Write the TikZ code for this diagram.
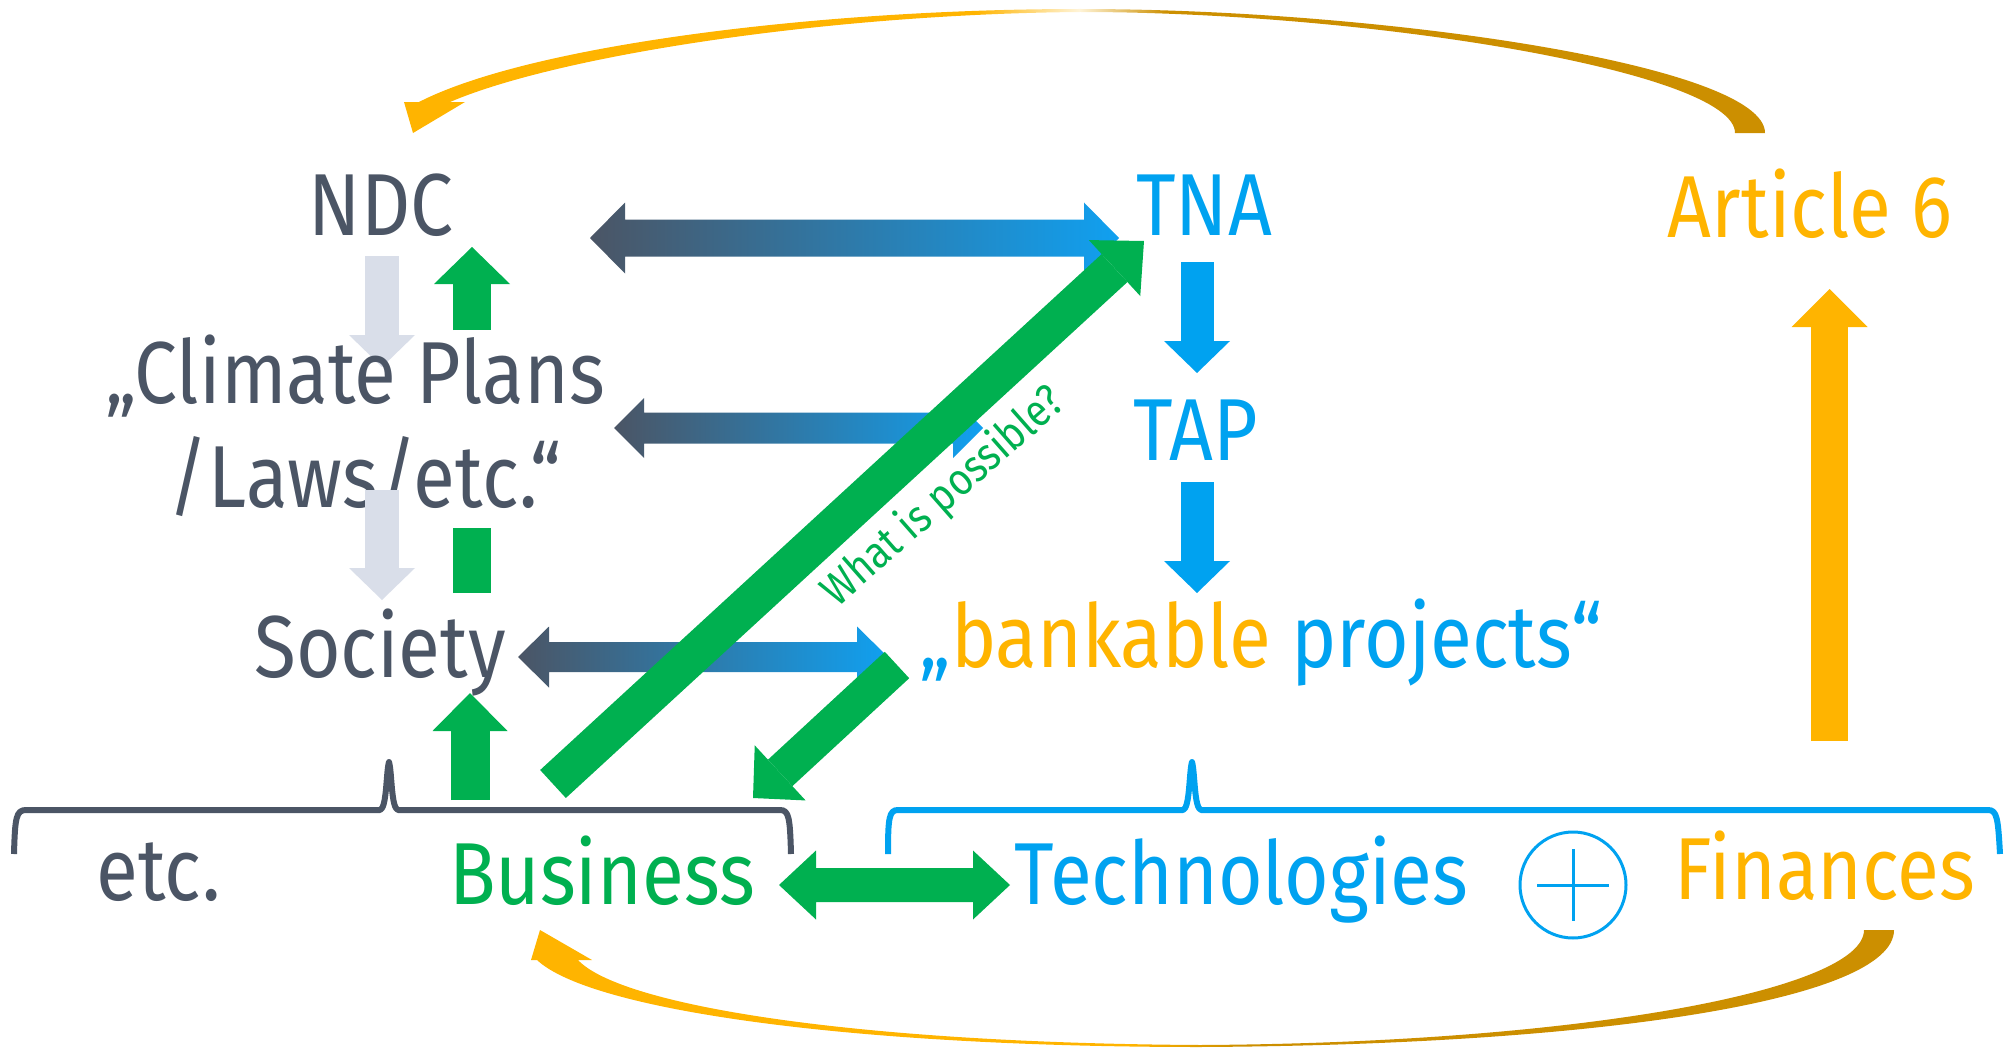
\documentclass[tikz,border=0pt]{standalone}
\usepackage{fontspec}
\setmainfont{Fira Sans}[FakeStretch=0.87]
\usetikzlibrary{arrows.meta,calc}
\definecolor{slate}{HTML}{4B5565}
\definecolor{lgray}{HTML}{D9DEE9}
\definecolor{grn}{HTML}{00B050}
\definecolor{blu}{HTML}{00A2F0}
\definecolor{blu2}{HTML}{10A0F0}
\definecolor{org}{HTML}{FFB400}
\definecolor{gld}{HTML}{CC8F00}
\definecolor{pale}{HTML}{FFF4D8}
\pgfdeclarehorizontalshading{topshade}{100bp}{color(0bp)=(org); color(46bp)=(org); color(49.8bp)=(pale); color(53bp)=(gld); color(100bp)=(gld)}
\pgfdeclarehorizontalshading{botshade}{100bp}{color(0bp)=(org); color(47bp)=(org); color(51bp)=(gld); color(100bp)=(gld)}
\newcommand\dblarrow[6]{%
  \path[#1] (#2) -- ++(#4,-#5) -- ++(0,#5-#6) -- ($(#3)+(-#4,-#6)$) -- ++(0,#6-#5) -- (#3)
    -- ++(-#4,#5) -- ++(0,#6-#5) -- ($(#2)+(#4,#6)$) -- ++(0,#5-#6) -- cycle;}
\tikzset{
  lbl/.style={anchor=base, inner sep=0pt, font=\fontsize{88}{100}\selectfont},
  fatarrow/.style n args={3}{line width=#1, -{Triangle[width=#2 0 0,length=#3 0 0,line width=0pt]}},
  bracepath/.style={line width=6pt, line join=round},
}
\begin{document}
\begin{tikzpicture}[x=1pt,y=-1pt]
\useasboundingbox (0,0) rectangle (2006,1049);
% top curved arrow Article 6 -> NDC
\shade[shading=topshade] (419,102) .. controls (530,45) and (820,9) .. (1080,9)
  .. controls (1380,9) and (1765,65) .. (1765,133) -- (1735,133)
  .. controls (1735,72) and (1370,12) .. (1080,12)
  .. controls (830,14) and (560,55) .. (450,102) -- (465,102) -- (413,133) -- (404,102) -- cycle;
% bottom curved arrow Finances -> Business
\shade[shading=botshade] (537,960) .. controls (590,1010) and (850,1047) .. (1200,1047)
  .. controls (1600,1045) and (1894,1000) .. (1894,930) -- (1864,930)
  .. controls (1864,990) and (1580,1043) .. (1200,1045)
  .. controls (850,1043) and (620,1005) .. (578,960) -- (592,960) -- (540,930) -- (531,960) -- cycle;

% coordinates
\coordinate (gA1) at (382,256); \coordinate (gA2) at (382,367);
\coordinate (gB1) at (382,490); \coordinate (gB2) at (382,600);
\coordinate (gC1) at (472,330); \coordinate (gC2) at (472,247);
\coordinate (gD1) at (472,593); \coordinate (gD2) at (472,528);
\coordinate (gE1) at (470,800); \coordinate (gE2) at (470,693);
\coordinate (Fl) at (590,238); \coordinate (Fr) at (1119,238);
\coordinate (Gl) at (614,428); \coordinate (Gr) at (983,428);
\coordinate (Hl) at (518,657); \coordinate (Hr) at (888,657);
\coordinate (Kl) at (779,885); \coordinate (Kr) at (1010,885);
\coordinate (I1) at (553,784); \coordinate (I2) at (1144,241);
\coordinate (J1) at (897,665); \coordinate (J2) at (753,798);
\coordinate (b1a) at (1197,262); \coordinate (b1b) at (1197,373);
\coordinate (b2a) at (1197,482); \coordinate (b2b) at (1197,593);
\coordinate (oa) at (1829.5,741); \coordinate (ob) at (1829.5,289);

% gray arrow NDC -> Climate plans
\draw[lgray, fatarrow={34pt}{66pt}{32pt}] (gA1) -- (gA2);

% texts
\node[lbl, text=slate] (ndc) at (381,235) {NDC};
\node[lbl, text=blu] (tna) at (1204,235) {TNA};
\node[lbl, text=org] (art) at (1810,237) {Article 6};
\node[lbl, text=slate] (cp1) at (355,403) {„Climate Plans};
\node[lbl, text=slate] (cp2) at (365,507) {/Laws/etc.“};
\node[lbl, text=slate] (soc) at (380,677) {Society};
\node[lbl, text=blu] (tap) at (1196,460) {TAP};
\node[lbl, text=blu] (bank) at (1261,667) {„\textcolor{org}{bankable} projects“};
\node[lbl, text=slate] (etc) at (158.5,900) {etc.};
\node[lbl, text=grn] (bus) at (602,904) {Business};
\node[lbl, text=blu] (tech) at (1241.5,904) {Technologies};
\node[lbl, text=org] (fin) at (1825,899) {Finances};

% gray arrow Climate plans -> Society
\draw[lgray, fatarrow={34pt}{66pt}{32pt}] (gB1) -- (gB2);

% green vertical arrows
\draw[grn, fatarrow={38pt}{76pt}{37pt}] (gC1) -- (gC2);
\draw[grn, line width=38pt] (gD1) -- (gD2);
\draw[grn, fatarrow={39pt}{75pt}{38pt}] (gE1) -- (gE2);

% gradient double arrows
\dblarrow{shade, left color=slate, right color=blu2}{Fl}{Fr}{35}{35.5}{18.5}
\dblarrow{shade, left color=slate, right color=blu2}{Gl}{Gr}{30}{30}{15.5}
\dblarrow{shade, left color=slate, right color=blu2}{Hl}{Hr}{31}{30.5}{15}

% blue vertical arrows
\draw[blu, fatarrow={33pt}{66pt}{32pt}] (b1a) -- (b1b);
\draw[blu, fatarrow={33pt}{66pt}{32pt}] (b2a) -- (b2b);

% orange arrow to Article 6
\draw[org, fatarrow={37pt}{76pt}{38pt}] (oa) -- (ob);

% green diagonals
\draw[grn, fatarrow={38pt}{76pt}{40pt}] (I1) -- (I2);
\draw[grn, fatarrow={36pt}{75pt}{37pt}] (J1) -- (J2);
\node[rotate=41.4, anchor=base, inner sep=0pt, font=\fontsize{45}{52}\selectfont, text=grn] (wip) at (952,507) {What is possible?};

% green double arrow Business <-> Technologies
\dblarrow{fill=grn}{Kl}{Kr}{37}{34.5}{17}

% braces
\draw[slate, bracepath] (14,854) .. controls (15,818) and (16,810) .. (26,810) -- (380,810)
  .. controls (387,808) and (386,772) .. (389,762) .. controls (392,772) and (391,808) .. (398,810)
  -- (780,810) .. controls (789,810) and (790,818) .. (791,854);
\draw[blu, bracepath] (888,854) .. controls (888,818) and (889,810) .. (898,810) -- (1183,810)
  .. controls (1190,808) and (1189,772) .. (1192,762) .. controls (1195,772) and (1194,808) .. (1201,810)
  -- (1988,810) .. controls (1997,810) and (1998,818) .. (2000,854);

% plus circle
\node[circle, draw=blu, line width=3pt, minimum size=106pt, inner sep=0pt] (plus) at (1573,885) {};
\draw[blu, line width=3pt] ($(plus.center)+(-36,0)$) -- ($(plus.center)+(36,0)$);
\draw[blu, line width=3pt] ($(plus.center)+(0,-36)$) -- ($(plus.center)+(0,36)$);
\end{tikzpicture}
\end{document}
